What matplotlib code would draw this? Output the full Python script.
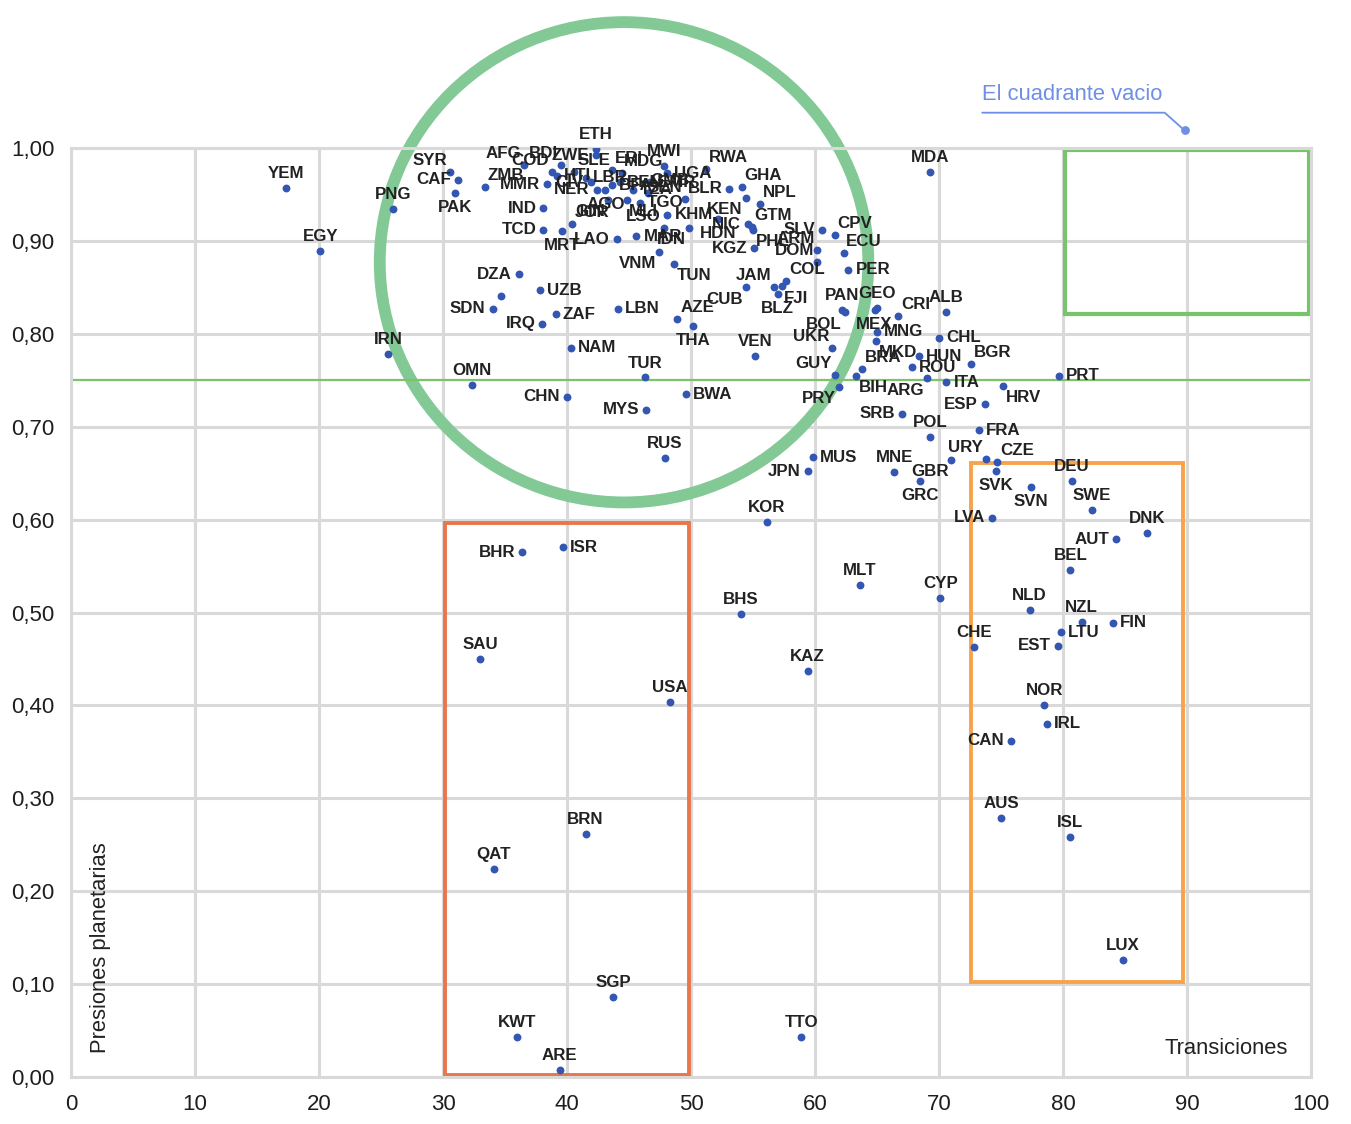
import matplotlib
matplotlib.use("Agg")
import matplotlib.pyplot as plt
from matplotlib.patches import Rectangle, Ellipse
from matplotlib.ticker import FuncFormatter

# --- Data: (Transiciones, Presiones planetarias) ---
countries = [
    "YEM", "EGY", "PNG", "IRN", "OMN", "SYR", "CAF", "PAK", "ZMB", "AFG",
    "MMR", "IND", "TCD", "MRT", "JOR", "LAO", "MAR", "LSO", "IDN", "KHM",
    "VNM", "TUN", "DZA", "UZB", "SDN", "ZAF", "IRQ", "LBN", "AZE", "THA",
    "NAM", "CHN", "TUR", "MYS", "BWA", "RUS", "VEN", "CUB", "JAM", "FJI",
    "COL", "BLZ", "RWA", "GHA", "BLR", "KEN", "NPL", "HDN", "NIC", "GTM",
    "PHL", "KGZ", "SLV", "CPV", "ARM", "DOM", "ECU", "PER", "PAN", "BOL",
    "GEO", "MEX", "CRI", "ALB", "MNG", "MKD", "UKR", "CHL", "HUN", "BGR",
    "ROU", "BRA", "GUY", "BIH", "PRY", "ARG", "ITA", "HRV", "ESP", "SRB",
    "FRA", "POL", "PRT", "URY", "GBR", "CZE", "SVK", "MNE", "GRC", "SVN",
    "DEU", "SWE", "LVA", "MUS", "JPN", "KOR", "MDA", "DNK", "AUT", "BEL",
    "NZL", "FIN", "LTU", "EST", "NLD", "CHE", "NOR", "IRL", "CAN", "AUS",
    "ISL", "LUX", "CYP", "MLT", "BHS", "KAZ", "USA", "BHR", "ISR", "SAU",
    "BRN", "QAT", "SGP", "KWT", "ARE", "TTO", "ETH", "BDI", "ZWE", "COD",
    "SLE", "HTI", "LBR", "MDG", "MWI", "UGA", "SEN", "GMB", "GIN", "MLI",
    "TGO", "NER", "BFA", "TZA", "BEN", "CMR", "CIV", "AGO", "ERI", "SSD",
]
transiciones = [
    17.3, 20.1, 26.0, 25.6, 32.3, 30.6, 31.2, 31.0, 33.4, 36.5,
    38.4, 38.1, 38.1, 39.6, 40.4, 44.0, 45.6, 47.8, 49.8, 48.1,
    47.4, 48.6, 36.1, 37.8, 34.0, 39.1, 38.0, 44.1, 48.9, 50.2,
    40.3, 40.0, 46.3, 46.4, 49.6, 47.9, 55.2, 54.4, 56.7, 57.3,
    57.7, 57.0, 51.2, 54.1, 53.1, 54.4, 55.6, 52.2, 54.6, 54.9,
    55.0, 55.1, 60.6, 61.6, 60.2, 60.2, 62.3, 62.7, 62.2, 62.4,
    65.0, 64.8, 66.7, 70.6, 65.0, 64.9, 61.4, 70.0, 68.4, 72.6,
    67.8, 63.8, 61.6, 63.3, 61.9, 69.0, 70.6, 75.2, 73.7, 67.0,
    73.2, 69.3, 79.7, 73.8, 71.0, 74.7, 74.6, 66.4, 68.5, 77.4,
    80.7, 82.3, 74.3, 59.8, 59.4, 56.1, 69.3, 86.8, 84.3, 80.6,
    81.5, 84.0, 79.8, 79.6, 77.3, 72.8, 78.5, 78.7, 75.8, 75.0,
    80.6, 84.8, 70.1, 63.6, 54.0, 59.4, 48.3, 36.4, 39.7, 33.0,
    41.5, 34.1, 43.7, 36.0, 39.4, 58.9, 42.3, 39.5, 42.3, 38.8,
    40.6, 39.2, 41.5, 44.4, 47.8, 48.1, 49.5, 46.5, 43.3, 44.8,
    45.9, 42.4, 43.6, 45.3, 44.3, 46.7, 41.9, 43.1, 43.6, 34.7,
]
presiones = [
    0.957, 0.889, 0.934, 0.778, 0.745, 0.974, 0.966, 0.952, 0.958, 0.982,
    0.961, 0.935, 0.912, 0.911, 0.918, 0.902, 0.905, 0.914, 0.914, 0.928,
    0.888, 0.875, 0.864, 0.847, 0.827, 0.821, 0.811, 0.827, 0.816, 0.808,
    0.785, 0.732, 0.753, 0.718, 0.735, 0.666, 0.776, 0.850, 0.850, 0.851,
    0.857, 0.843, 0.977, 0.958, 0.956, 0.946, 0.940, 0.924, 0.918, 0.915,
    0.912, 0.892, 0.912, 0.906, 0.890, 0.877, 0.887, 0.869, 0.826, 0.823,
    0.828, 0.826, 0.819, 0.823, 0.802, 0.792, 0.785, 0.796, 0.776, 0.767,
    0.764, 0.762, 0.756, 0.755, 0.743, 0.752, 0.748, 0.744, 0.724, 0.714,
    0.696, 0.689, 0.755, 0.665, 0.664, 0.662, 0.652, 0.651, 0.642, 0.635,
    0.642, 0.610, 0.602, 0.667, 0.652, 0.597, 0.974, 0.586, 0.579, 0.546,
    0.490, 0.489, 0.479, 0.464, 0.503, 0.463, 0.400, 0.380, 0.362, 0.279,
    0.258, 0.126, 0.516, 0.530, 0.498, 0.437, 0.404, 0.565, 0.570, 0.450,
    0.262, 0.224, 0.086, 0.043, 0.008, 0.043, 0.999, 0.982, 0.992, 0.974,
    0.974, 0.970, 0.968, 0.973, 0.981, 0.973, 0.945, 0.952, 0.944, 0.944,
    0.941, 0.955, 0.960, 0.955, 0.963, 0.963, 0.963, 0.955, 0.976, 0.841,
]

# where each label sits relative to its dot
label_side = {
    "YEM": "a", "EGY": "a", "PNG": "a", "IRN": "a", "OMN": "a", "SYR": "al",
    "CAF": "l", "PAK": "b", "ZMB": "ar", "AFG": "al", "MMR": "l", "IND": "l",
    "TCD": "l", "MRT": "b", "JOR": "ar", "LAO": "l", "MAR": "r", "LSO": "al",
    "IDN": "bl", "KHM": "r", "VNM": "bl", "TUN": "br", "DZA": "l", "UZB": "r",
    "SDN": "l", "ZAF": "r", "IRQ": "l", "LBN": "r", "AZE": "ar", "THA": "b",
    "NAM": "r", "CHN": "l", "TUR": "a", "MYS": "l", "BWA": "r", "RUS": "a",
    "VEN": "a", "CUB": "bl", "JAM": "al", "FJI": "br", "COL": "ar", "BLZ": "b",
    "RWA": "ar", "GHA": "ar", "BLR": "l", "KEN": "bl", "NPL": "ar", "HDN": "b",
    "NIC": "l", "GTM": "ar", "PHL": "br", "KGZ": "l", "SLV": "l", "CPV": "ar",
    "ARM": "al", "DOM": "al", "ECU": "ar", "PER": "r", "PAN": "a", "BOL": "bl",
    "GEO": "a", "MEX": "b", "CRI": "ar", "ALB": "a", "MNG": "r", "MKD": "br",
    "UKR": "al", "CHL": "r", "HUN": "r", "BGR": "ar", "ROU": "r", "BRA": "ar",
    "GUY": "al", "BIH": "br", "PRY": "bl", "ARG": "bl", "ITA": "r", "HRV": "br",
    "ESP": "l", "SRB": "l", "FRA": "r", "POL": "a", "PRT": "r", "URY": "al",
    "GBR": "bl", "CZE": "ar", "SVK": "b", "MNE": "a", "GRC": "b", "SVN": "b",
    "DEU": "a", "SWE": "a", "LVA": "l", "MUS": "r", "JPN": "l", "KOR": "a",
    "MDA": "a", "DNK": "a", "AUT": "l", "BEL": "a", "NZL": "a", "FIN": "r",
    "LTU": "r", "EST": "l", "NLD": "a", "CHE": "a", "NOR": "a", "IRL": "r",
    "CAN": "l", "AUS": "a", "ISL": "a", "LUX": "a", "CYP": "a", "MLT": "a",
    "BHS": "a", "KAZ": "a", "USA": "a", "BHR": "l", "ISR": "r", "SAU": "a",
    "BRN": "a", "QAT": "a", "SGP": "a", "KWT": "a", "ARE": "a", "TTO": "a",
    "ETH": "a", "BDI": "al", "ZWE": "l", "COD": "al", "SLE": "ar", "HTI": "r",
    "LBR": "r", "MDG": "ar", "MWI": "a", "UGA": "r", "SEN": "al", "GMB": "ar",
    "GIN": "bl", "MLI": "br", "TGO": "r", "NER": "l", "BFA": "r", "TZA": "r",
    "BEN": "r", "CMR": "r", "CIV": "l", "AGO": "b", "ERI": "ar", "SSD": None,
}
offsets = {
    "a": ((0, 5), "center", "bottom"),
    "b": ((0, -5), "center", "top"),
    "l": ((-5, 0), "right", "center"),
    "r": ((5, 0), "left", "center"),
    "al": ((-2, 3), "right", "bottom"),
    "ar": ((2, 3), "left", "bottom"),
    "bl": ((-2, -3), "right", "top"),
    "br": ((2, -3), "left", "top"),
}

# --- Figure ---
plt.rcParams["font.family"] = ["Liberation Sans", "DejaVu Sans"]
fig = plt.figure(figsize=(13.51, 11.24), dpi=100)
ax = fig.add_axes([71 / 1351, 47 / 1124, 1240 / 1351, 929 / 1124])

ax.set_xlim(0, 100)
ax.set_ylim(0, 1.0)
ax.set_xticks(range(0, 101, 10))
ax.set_yticks([i / 10 for i in range(11)])
ax.yaxis.set_major_formatter(FuncFormatter(lambda v, p: f"{v:.2f}".replace(".", ",")))
ax.grid(True, color="#d9d9d9", linewidth=2.2)
ax.set_axisbelow(True)
for s in ax.spines.values():
    s.set_color("#d9d9d9")
    s.set_linewidth(2.2)
ax.tick_params(length=0, labelsize=16, colors="#1e1e1e", pad=12)

# threshold line
ax.axhline(0.75, color="#7cc36a", linewidth=1.6, zorder=2)

# highlight shapes
ax.add_patch(Ellipse((44.6, 0.877), 39.4, 0.517, fill=False, edgecolor="#82c995",
                     linewidth=8.5, clip_on=False, zorder=1))
ax.add_patch(Rectangle((80.2, 0.821), 19.6, 0.177, fill=False, edgecolor="#78c46c",
                       linewidth=3, zorder=2))
ax.add_patch(Rectangle((30.2, 0.002), 19.6, 0.594, fill=False, edgecolor="#e8774d",
                       linewidth=2.8, zorder=2))
ax.add_patch(Rectangle((72.6, 0.102), 17.1, 0.559, fill=False, edgecolor="#f7a34c",
                       linewidth=2.8, zorder=2))

# points
ax.scatter(transiciones, presiones, s=32, color="#3356b2", zorder=4, linewidths=0)

for name, x, y in zip(countries, transiciones, presiones):
    side = label_side.get(name)
    if side is None:
        continue
    off, ha, va = offsets[side]
    ax.annotate(name, (x, y), xytext=off, textcoords="offset points",
                ha=ha, va=va, fontsize=12.2, fontweight="bold", color="#222222", zorder=5)

# annotation for the empty quadrant
ax.plot([73.5, 88.2, 89.8], [1.038, 1.038, 1.019], color="#6f8fe6", linewidth=1.3,
        clip_on=False)
ax.scatter([89.8], [1.019], s=28, color="#6f8fe6", clip_on=False, zorder=5)
ax.text(73.5, 1.046, "El cuadrante vacio", color="#6f8fe6", fontsize=15.8,
        ha="left", va="bottom")

# axis titles inside plot
ax.text(2.4, 0.026, "Presiones planetarias", rotation=90, ha="center", va="bottom",
        fontsize=15.8, color="#222222")
ax.text(98.1, 0.031, "Transiciones", ha="right", va="center", fontsize=15.8,
        color="#222222")

fig.savefig("out.png", dpi=100)
